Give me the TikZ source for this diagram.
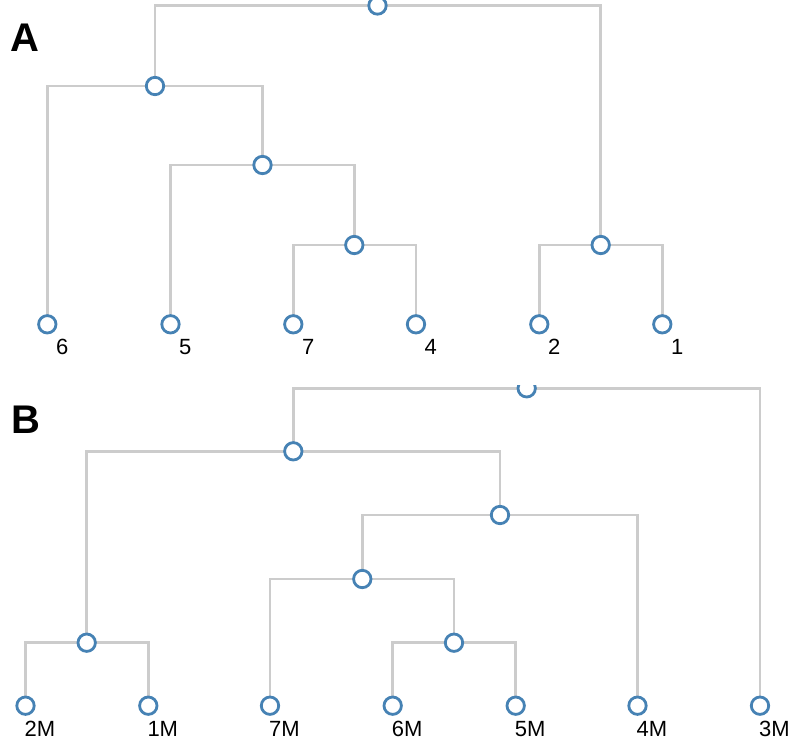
\documentclass[tikz,border=0pt]{standalone}
\usepackage{fontspec}
\setmainfont{Liberation Sans}
\usetikzlibrary{backgrounds}
\definecolor{linkgray}{HTML}{CCCCCC}
\definecolor{nodeblue}{HTML}{4682B4}
\begin{document}
\begin{tikzpicture}[x=1pt,y=-1pt,
  treenode/.style={circle,draw=nodeblue,fill=white,line width=2.8pt,
    minimum size=17.4pt,inner sep=0pt,outer sep=0pt},
  link/.style={draw=linkgray,line width=2.7pt},
  panel/.style={anchor=base west,inner sep=0pt,
    font=\fontsize{40}{44}\selectfont\bfseries},
  leaflab/.style={anchor=base west,inner sep=0pt,
    font=\fontsize{22}{26}\selectfont},
  labA/.style={leaflab,xshift=8.5pt,yshift=-30pt},
  labB/.style={leaflab,xshift=-1pt,yshift=-31pt}]
\useasboundingbox (0,0) rectangle (795,742);

% ---------------- tree A ----------------
\node[panel] (tA) at (10,51.5) {A};
\begin{scope}
  \clip (0,0) rectangle (795,370);
  \node[treenode] (rA) at (377.5,5.5) {};
\end{scope}
\node[treenode] (a1) at (155,86) {};
\node[treenode] (a2) at (262.5,165) {};
\node[treenode] (a3) at (354.3,245) {};
\node[treenode] (a4) at (600.7,245) {};
\node[treenode] (l6) at (47.3,324.3) {};
\node[treenode] (l5) at (170.5,324.3) {};
\node[treenode] (l7) at (293.3,324.3) {};
\node[treenode] (l4) at (416,324.3) {};
\node[treenode] (l2) at (539.3,324.3) {};
\node[treenode] (l1) at (662.3,324.3) {};
\node[labA] (n6) at (l6) {6};
\node[labA] (n5) at (l5) {5};
\node[labA] (n7) at (l7) {7};
\node[labA] (n4) at (l4) {4};
\node[labA] (n2) at (l2) {2};
\node[labA] (n1) at (l1) {1};

% ---------------- tree B ----------------
\node[panel] (tB) at (11,433) {B};
\begin{scope}
  \clip (0,385) rectangle (795,742);
  \node[treenode] (rB) at (526.7,388.3) {};
\end{scope}
\node[treenode] (b1) at (293.3,451.3) {};
\node[treenode] (b2) at (500,515) {};
\node[treenode] (b3) at (362.3,579) {};
\node[treenode] (b4) at (454,642.7) {};
\node[treenode] (b5) at (86.7,642.7) {};
\node[treenode] (m2) at (25.5,705.7) {};
\node[treenode] (m1) at (148.3,705.7) {};
\node[treenode] (m7) at (270,705.7) {};
\node[treenode] (m6) at (392.7,705.7) {};
\node[treenode] (m5) at (515.7,705.7) {};
\node[treenode] (m4) at (637.5,705.7) {};
\node[treenode] (m3) at (760,705.7) {};
\node[labB] (k2) at (m2) {2M};
\node[labB] (k1) at (m1) {1M};
\node[labB] (k7) at (m7) {7M};
\node[labB] (k6) at (m6) {6M};
\node[labB] (k5) at (m5) {5M};
\node[labB] (k4) at (m4) {4M};
\node[labB] (k3) at (m3) {3M};

% elbow links, drawn beneath the nodes
\begin{pgfonlayer}{background}
  \path[link] (rA.center) -| (a1.center)  (rA.center) -| (a4.center)
              (a1.center) -| (l6.center)  (a1.center) -| (a2.center)
              (a2.center) -| (l5.center)  (a2.center) -| (a3.center)
              (a3.center) -| (l7.center)  (a3.center) -| (l4.center)
              (a4.center) -| (l2.center)  (a4.center) -| (l1.center);
  \path[link] (rB.center) -| (b1.center)  (rB.center) -| (m3.center)
              (b1.center) -| (b5.center)  (b1.center) -| (b2.center)
              (b5.center) -| (m2.center)  (b5.center) -| (m1.center)
              (b2.center) -| (b3.center)  (b2.center) -| (m4.center)
              (b3.center) -| (m7.center)  (b3.center) -| (b4.center)
              (b4.center) -| (m6.center)  (b4.center) -| (m5.center);
\end{pgfonlayer}
\end{tikzpicture}
\end{document}
